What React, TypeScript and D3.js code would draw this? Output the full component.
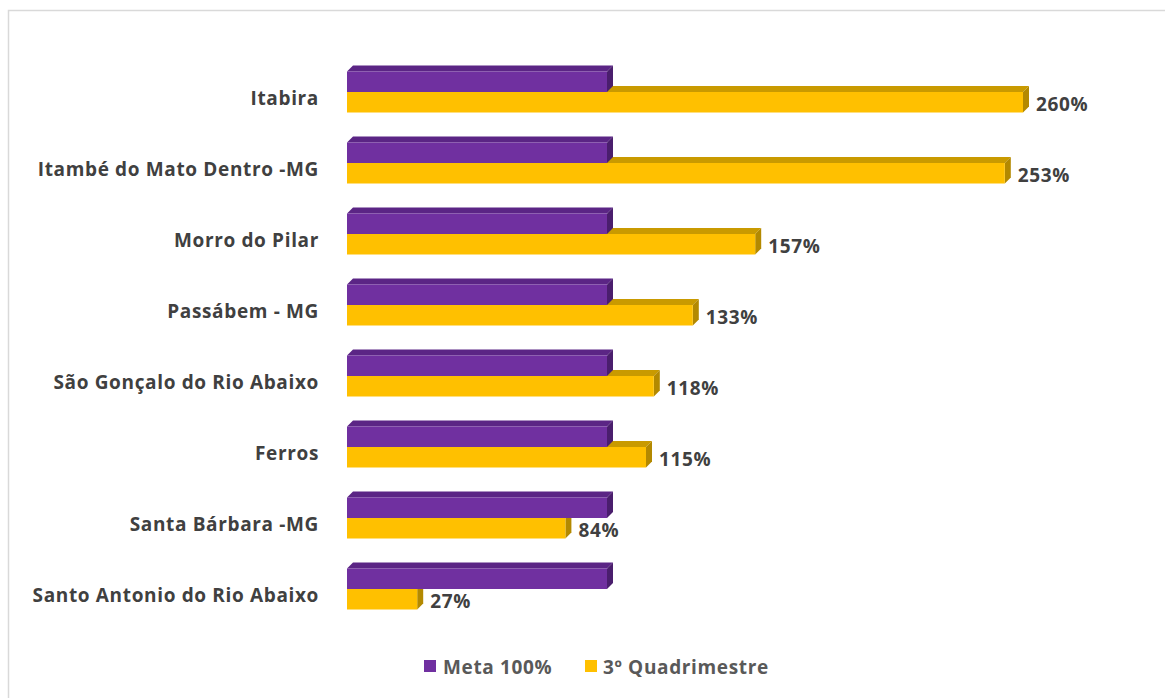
import React from 'react'
import { scaleBand, scaleLinear } from 'd3'

const categories = [
  'Itabira',
  'Itambé do Mato Dentro -MG',
  'Morro do Pilar',
  'Passábem - MG',
  'São Gonçalo do Rio Abaixo',
  'Ferros',
  'Santa Bárbara -MG',
  'Santo Antonio do Rio Abaixo',
]
const meta = [100, 100, 100, 100, 100, 100, 100, 100]
const quadrimestre = [260, 253, 157, 133, 118, 115, 84, 27]
const seriesNames = ['Meta 100%', '3º Quadrimestre']

const PURPLE = { front: '#7030A0', top: '#5B2585', side: '#4A1E6D' }
const YELLOW = { front: '#FFC000', top: '#C99A00', side: '#B38900' }
const FONT = "'Open Sans', 'Liberation Sans', sans-serif"

const Bar3D = ({ x0, y, w, h, d, c }) => (
  <g>
    <polygon
      points={`${x0},${y} ${x0 + d},${y - d} ${x0 + w + d},${y - d} ${x0 + w},${y}`}
      fill={c.top}
    />
    <polygon
      points={`${x0 + w},${y} ${x0 + w + d},${y - d} ${x0 + w + d},${y + h - d} ${x0 + w},${y + h}`}
      fill={c.side}
    />
    <rect x={x0} y={y} width={w} height={h} fill={c.front} />
  </g>
)

export default () => {
  const width = 1165
  const height = 698
  const x0 = 347
  const d = 6
  const barH = 20.5
  const x = scaleLinear().domain([0, 260]).range([0, 676])
  const y = scaleBand().domain(categories).range([56.5, 624.5])
  const center = c => y(c) + y.bandwidth() / 2
  const textProps = {
    fontFamily: FONT,
    fontWeight: 700,
    fontSize: 19,
    letterSpacing: 0.65,
  }

  return (
    <svg
      width={width}
      height={height}
      viewBox={`0 0 ${width} ${height}`}
      style={{ position: 'absolute', left: 0, top: 0, background: '#fff' }}
    >
      <rect x={8.5} y={10.5} width={1170} height={700} fill="none" stroke="#d9d9d9" strokeWidth={1.5} />
      {categories.map((c, i) => {
        const cy = center(c)
        return (
          <g key={c}>
            <Bar3D x0={x0} y={cy} w={x(quadrimestre[i])} h={barH} d={d} c={YELLOW} />
            <Bar3D x0={x0} y={cy - barH} w={x(meta[i])} h={barH} d={d} c={PURPLE} />
            <text
              x={319}
              y={cy + 8}
              textAnchor="end"
              dominantBaseline="middle"
              fill="#404040"
              {...textProps}
            >
              {c}
            </text>
            <text
              x={x0 + x(quadrimestre[i]) + d + 7}
              y={cy + 14}
              dominantBaseline="middle"
              fill="#404040"
              {...textProps}
            >
              {quadrimestre[i]}%
            </text>
          </g>
        )
      })}
      <g fill="#595959" {...textProps}>
        <rect x={424} y={660} width={12} height={12} fill={PURPLE.front} />
        <text x={443} y={669} dominantBaseline="middle">{seriesNames[0]}</text>
        <rect x={585} y={660} width={12} height={12} fill={YELLOW.front} />
        <text x={603} y={669} dominantBaseline="middle">{seriesNames[1]}</text>
      </g>
    </svg>
  )
}
